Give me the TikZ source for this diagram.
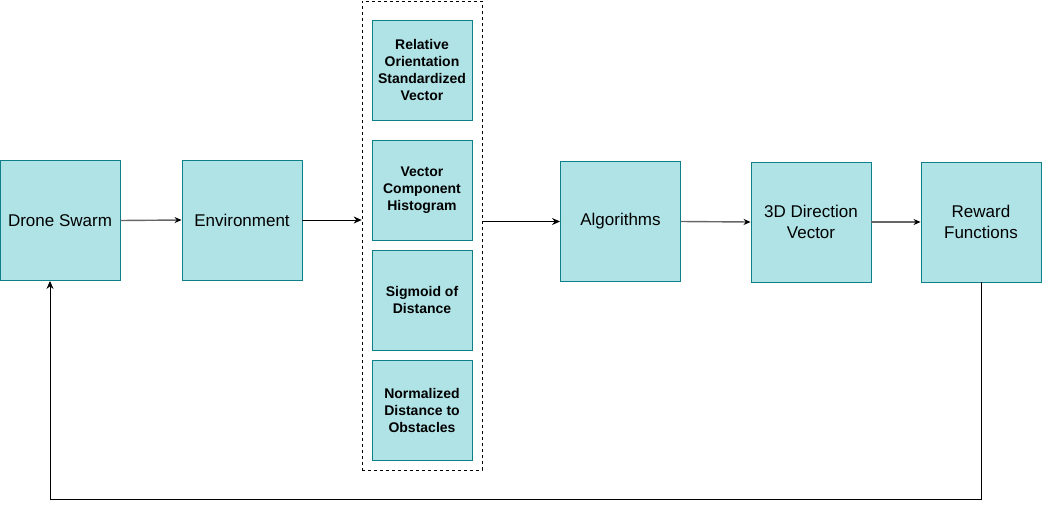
\documentclass[tikz,border=0pt]{standalone}
\usepackage{fontspec}
\setmainfont{Liberation Sans}
\usetikzlibrary{arrows.meta,positioning,calc}

\definecolor{boxfill}{HTML}{B0E3E6}
\definecolor{boxline}{HTML}{0E8088}

\begin{document}
\begin{tikzpicture}[
    x=1pt, y=-1pt,
    block/.style={rectangle, draw=boxline, fill=boxfill, line width=0.9pt, minimum width=120, minimum height=120, align=center, inner sep=2pt, font=\fontsize{17}{21}\selectfont},
    feature/.style={rectangle, draw=boxline, fill=boxfill, line width=0.9pt, minimum width=100, minimum height=100, align=center, inner sep=2pt, font=\fontsize{14}{17}\selectfont\bfseries},
    arrow/.style={-{Stealth[length=8pt,width=7pt]}, line width=0.9pt},
    greyarrow/.style={arrow, draw=black!60, line width=1.4pt, -{Stealth[length=7pt,width=6pt,black]}}
]
\useasboundingbox (0,0) rectangle (1042,509);

% Main chain
\node[block] (drone) at (60,220.5) {Drone Swarm};
\node[block] (env) at (242,220) {Environment};

% Observation features
\node[draw, dashed, line width=0.7pt, minimum width=120, minimum height=469] (group) at (422,235.5) {};
\node[feature] (orient) at (422,70) {Relative\\Orientation\\Standardized\\Vector};
\node[feature] (hist) at (422,190) {Vector\\Component\\Histogram};
\node[feature] (sigmoid) at (422,300) {Sigmoid of\\Distance};
\node[feature] (obst) at (422,410) {Normalized\\Distance to\\Obstacles};

\node[block] (alg) at (620.5,221.5) {Algorithms};
\node[block] (dir) at (811,222) {3D Direction\\Vector};
\node[block] (reward) at (981,222) {Reward\\Functions};

% Connectors
\draw[greyarrow] (drone.east) -- (env.west);
\draw[arrow] (env.east) -- (env.east -| group.west);
\draw[arrow] (group.east |- alg.west) -- (alg.west);
\draw[greyarrow] (alg.east) -- (dir.west);
\draw[greyarrow] (dir.east) -- (reward.west);

% Feedback loop
\coordinate (loop) at (981,499);
\draw[arrow] (reward.south) -- (loop) -| ([xshift=-10]drone.south);

\end{tikzpicture}
\end{document}
